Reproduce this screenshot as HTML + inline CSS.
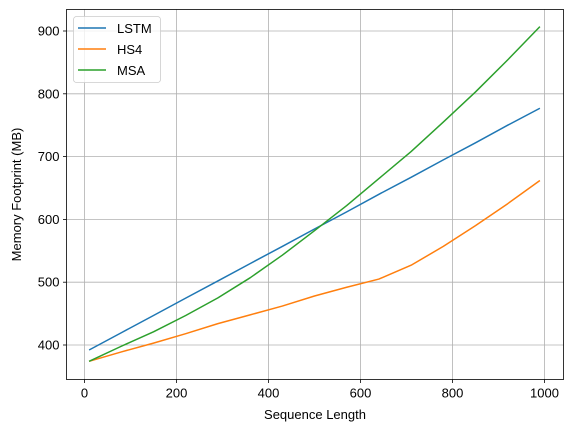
<!DOCTYPE html>
<html><head><meta charset="utf-8"><style>
body{margin:0;background:#fff;}
svg text{font-family:"Liberation Sans","DejaVu Sans",sans-serif;font-size:13px;fill:#000;}
</style></head><body>
<svg id="chart" width="571" height="432"></svg>
<script>
const xs=[10,80,150,220,290,360,430,500,570,640,710,780,850,920,990];
const lstm=[392,419.5,447,474.6,502,529.6,557,584.7,612,640,667,694.8,722,750,777];
const hs4=[374,389,403,418,434,448,462,478,492,505,527,557,590,625,662];
const msa=[374,398,421,447,475,507,543,582,622,665,708,755,803,854,907];
const xTicks=[0,200,400,600,800,1000];
const yTicks=[400,500,600,700,800,900];
const names=["LSTM","HS4","MSA"];
const colors=["#1f77b4","#ff7f0e","#2ca02c"];
const L=66.5,R=563.5,T=9.5,B=379.5;
const X=v=>84.5+(v-0)*0.46;
const Y=v=>345-(v-400)*0.628;
const svg=document.getElementById('chart');
const NS="http://www.w3.org/2000/svg";
function mk(t,a){const e=document.createElementNS(NS,t);for(const k in a)e.setAttribute(k,a[k]);svg.appendChild(e);return e;}
xTicks.forEach(t=>{
const g=mk('line',{x1:X(t),x2:X(t),y1:T,y2:B,stroke:'#b0b0b0','stroke-width':0.8});


mk('line',{x1:X(t),x2:X(t),y1:B,y2:B+3.5,stroke:'#000','stroke-width':0.8});
const tx=mk('text',{x:X(t),y:B+18,'text-anchor':'middle'});tx.textContent=t;


});
yTicks.forEach(t=>{
const g=mk('line',{x1:L,x2:R,y1:Y(t),y2:Y(t),stroke:'#b0b0b0','stroke-width':0.8});


mk('line',{x1:L-3.5,x2:L,y1:Y(t),y2:Y(t),stroke:'#000','stroke-width':0.8});
const tx=mk('text',{x:L-7,y:Y(t)+4.5,'text-anchor':'end'});tx.textContent=t;


});
[lstm,hs4,msa].forEach((s,i)=>{
const p=mk('polyline',{points:xs.map((x,j)=>X(x)+','+Y(s[j])).join(' '),fill:'none',stroke:colors[i],'stroke-width':1.5,'stroke-linejoin':'round'});


});
const fr=mk('rect',{x:L,y:T,width:R-L,height:B-T,fill:'none',stroke:'#000','stroke-width':0.8});


const xl=mk('text',{x:(L+R)/2,y:419,'text-anchor':'middle'});xl.textContent='Sequence Length';


const yl=mk('text',{x:0,y:0,'text-anchor':'middle',transform:'translate(21,'+((T+B)/2)+') rotate(-90)'});yl.textContent='Memory Footprint (MB)';


const lg=mk('rect',{x:73.5,y:16.5,width:87,height:66,rx:3,fill:'#fff','fill-opacity':0.8,stroke:'#ccc','stroke-width':0.8});


names.forEach((n,i)=>{
const y=28+i*21;
mk('line',{x1:78,x2:106,y1:y,y2:y,stroke:colors[i],'stroke-width':1.5});
const t=mk('text',{x:117,y:y+5});t.textContent=n;


});
</script>
</body></html>
